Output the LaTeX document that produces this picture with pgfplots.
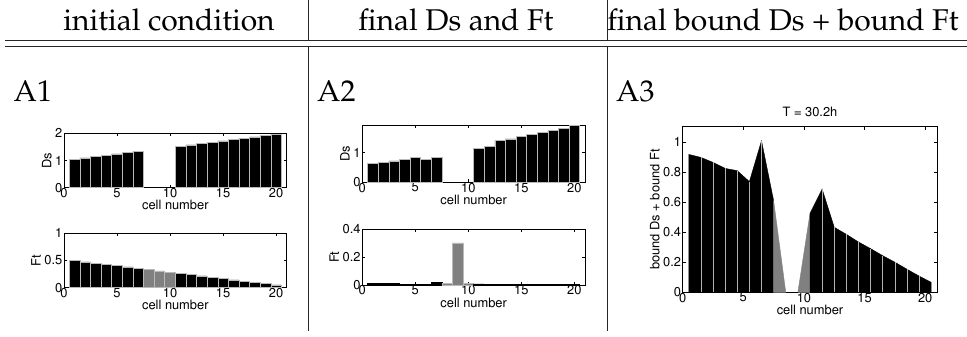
\documentclass[border=0pt]{standalone}
\usepackage[T1]{fontenc}
\usepackage{mathpazo}
\usepackage[scaled=0.92]{helvet}
\usepackage{pgfplots}
\pgfplotsset{compat=1.18}

\newcommand{\matfont}{\sffamily\fontsize{14}{15}\selectfont}
\newcommand{\tabfont}{\rmfamily\fontsize{30}{36}\selectfont}

\pgfplotsset{
  cellaxis/.style={
    scale only axis,
    anchor=north west,
    xmin=0, xmax=21,
    xtick={0,5,10,15,20},
    tick align=inside,
    major tick length=3pt,
    axis line style={line width=0.6pt},
    every tick/.style={black, line width=0.5pt},
    /pgf/number format/assume math mode=true,
    tick label style={font=\matfont},
    label style={font=\matfont},
    title style={font=\matfont},
    xticklabel style={inner sep=0.5pt},
    yticklabel style={inner sep=1.5pt},
    xlabel={cell number},
    xlabel style={inner sep=0pt, yshift=-2pt},
    ylabel style={inner sep=2pt},
  },
  blackbar/.style={ybar, bar width=1, bar shift=0pt, fill=black, draw=gray!55, line width=0.5pt},
  greybar/.style={ybar, bar width=1, bar shift=0pt, fill=gray, draw=gray!55, line width=0.5pt},
}

\begin{document}
\begin{tikzpicture}[x=1pt, y=1pt]
\path[use as bounding box] (0pt,0pt) rectangle (967pt,-337pt);

% table rules
\draw[black!85, line width=0.9pt] (5pt,-40pt) -- (967pt,-40pt);
\draw[black!85, line width=0.9pt] (5pt,-46pt) -- (967pt,-46pt);
\foreach \xx in {308,607} {
  \draw[black!85, line width=0.9pt] (\xx pt,0pt) -- (\xx pt,-40pt);
  \draw[black!85, line width=0.9pt] (\xx pt,-46pt) -- (\xx pt,-331pt);
}

% column headings
\node[anchor=base, inner sep=0pt, font=\tabfont] at (169pt,-31pt) {initial condition};
\node[anchor=base, inner sep=0pt, font=\tabfont] at (456pt,-31pt) {final Ds and Ft};
\node[anchor=base, inner sep=0pt, font=\tabfont] at (783pt,-31pt) {final bound Ds + bound Ft};

% panel labels
\node[anchor=base west, inner sep=0pt, font=\tabfont] at (13.5pt,-101pt) {A1};
\node[anchor=base west, inner sep=0pt, font=\tabfont] at (317pt,-101pt) {A2};
\node[anchor=base west, inner sep=0pt, font=\tabfont] at (616pt,-101pt) {A3};

% ---- A1: initial Ds
\begin{axis}[cellaxis, at={(64pt,-133.3pt)}, width=222.7pt, height=54.4pt,
  ymin=0, ymax=2, ytick={0,1,2}, ylabel={Ds}]
\addplot[blackbar] coordinates {
  (1,1.050) (2,1.098) (3,1.146) (4,1.194) (5,1.242) (6,1.290) (7,1.338)
  (11,1.530) (12,1.578) (13,1.626) (14,1.674) (15,1.722) (16,1.770)
  (17,1.818) (18,1.866) (19,1.914) (20,1.962)};
\end{axis}

% ---- A1: initial Ft
\begin{axis}[cellaxis, at={(64pt,-233.3pt)}, width=222.7pt, height=54.4pt,
  ymin=0, ymax=1, ytick={0,0.5,1}, ylabel={Ft}]
\addplot[blackbar] coordinates {
  (1,0.500) (2,0.476) (3,0.453) (4,0.429) (5,0.405) (6,0.382) (7,0.358)};
\addplot[greybar] coordinates {(8,0.334) (9,0.310) (10,0.287)};
\addplot[blackbar] coordinates {
  (11,0.263) (12,0.239) (13,0.216) (14,0.192) (15,0.168) (16,0.145)
  (17,0.121) (18,0.097) (19,0.074) (20,0.050)};
\end{axis}

% ---- A2: final Ds
\begin{axis}[cellaxis, at={(362.3pt,-125pt)}, width=222.7pt, height=57.3pt,
  ymin=0, ymax=1.93, ytick={0,1}, ylabel={Ds}]
\addplot[blackbar] coordinates {
  (1,0.63) (2,0.67) (3,0.72) (4,0.78) (5,0.85) (6,0.78) (7,0.85)
  (11,1.15) (12,1.22) (13,1.40) (14,1.46) (15,1.54) (16,1.61)
  (17,1.67) (18,1.74) (19,1.82) (20,1.93)};
\end{axis}

% ---- A2: final Ft
\begin{axis}[cellaxis, at={(362.3pt,-229.3pt)}, width=222.7pt, height=55.7pt,
  ymin=0, ymax=0.4, ytick={0,0.2,0.4}, ylabel={Ft}]
\addplot[blackbar, draw=black] coordinates {
  (1,0.012) (2,0.011) (3,0.010) (4,0.007) (5,0.007) (6,0.007) (7,0.017)};
\addplot[greybar] coordinates {(8,0.014) (9,0.302) (10,0.010)};
\addplot[blackbar, draw=black] coordinates {
  (11,0.008) (12,0.003) (13,0.003) (14,0.003) (15,0.003) (16,0.003)
  (17,0.003) (18,0.003) (19,0.003) (20,0.003)};
\end{axis}

% ---- A3: final bound Ds + bound Ft
\begin{axis}[cellaxis, at={(682.7pt,-126.7pt)}, width=254.6pt, height=165.6pt,
  ymin=0, ymax=1.1, ytick={0,0.2,0.4,0.6,0.8,1},
  ylabel={bound Ds + bound Ft}, title={T = 30.2h},
  title style={inner sep=0pt, yshift=4pt}]
% cells 1-7
\addplot[fill=black, draw=black, line width=0.4pt] coordinates {
  (0.5,0) (0.5,0.916) (1.5,0.896) (2.5,0.863) (3.5,0.823) (4.5,0.808)
  (5.5,0.735) (6.5,1.007) (7.5,0.609) (7.5,0)} -- cycle;
% cells 8 and 10
\addplot[fill=gray, draw=gray, line width=0.4pt] coordinates {
  (7.5,0) (7.5,0.609) (8.5,0)} -- cycle;
\addplot[fill=gray, draw=gray, line width=0.4pt] coordinates {
  (9.5,0) (10.5,0.525) (10.5,0)} -- cycle;
% cell 9 stays at zero
\addplot[black, line width=1pt] coordinates {(8.5,0) (9.5,0)};
% cells 11-20
\addplot[fill=black, draw=black, line width=0.4pt] coordinates {
  (10.5,0) (10.5,0.525) (11.5,0.686) (12.5,0.432) (13.5,0.385)
  (14.5,0.334) (15.5,0.290) (16.5,0.243) (17.5,0.200) (18.5,0.153)
  (19.5,0.108) (20.5,0.066) (20.5,0)} -- cycle;
% cell borders
\addplot[ycomb, gray!60, line width=0.7pt] coordinates {
  (1.5,0.896) (2.5,0.863) (3.5,0.823) (4.5,0.808) (5.5,0.735) (6.5,1.007)
  (11.5,0.686) (12.5,0.432) (13.5,0.385) (14.5,0.334) (15.5,0.290)
  (16.5,0.243) (17.5,0.200) (18.5,0.153) (19.5,0.108)};
\end{axis}
\end{tikzpicture}
\end{document}
